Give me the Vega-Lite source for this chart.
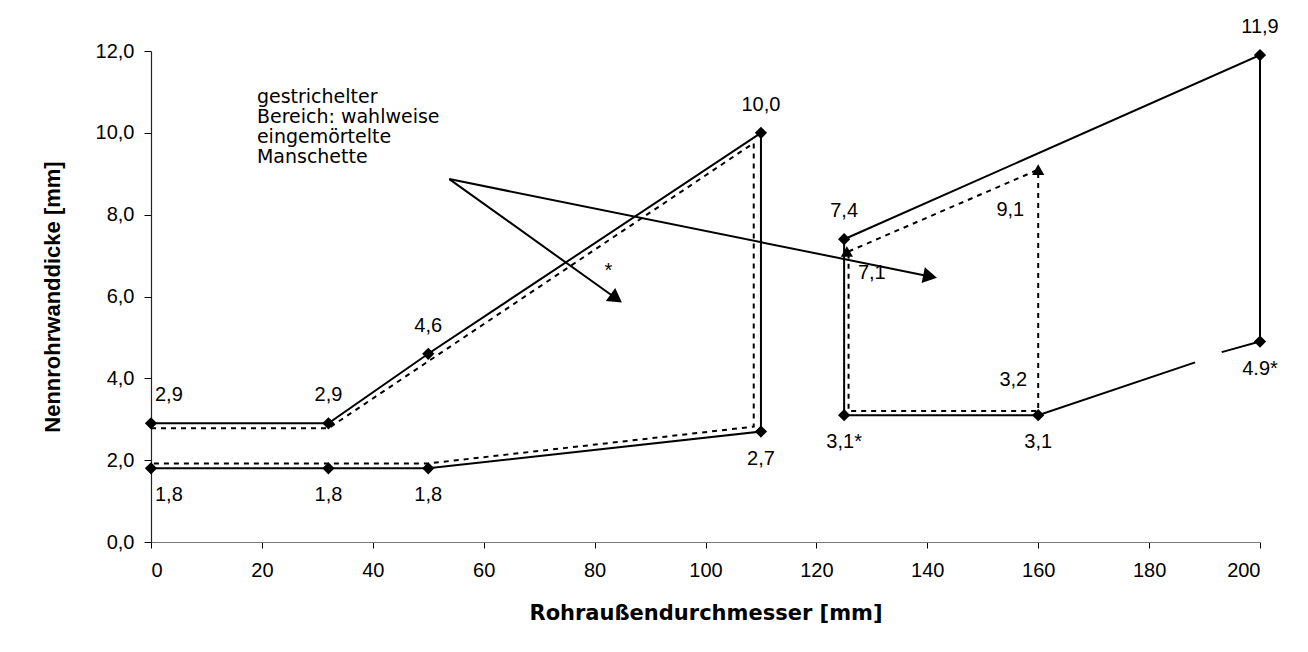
{
  "$schema": "https://vega.github.io/schema/vega-lite/v6.json",
  "width": 1109,
  "height": 491,
  "autosize": {"type": "none"},
  "padding": {"left": 151, "top": 51, "right": 48, "bottom": 110},
  "background": "white",
  "config": {"view": {"stroke": null}, "font": "Liberation Sans"},
  "datasets": {
    "solid_lines": [
      {"path": "A", "i": 1, "x": 0, "y": 2.9},
      {"path": "A", "i": 2, "x": 32, "y": 2.9},
      {"path": "A", "i": 3, "x": 50, "y": 4.6},
      {"path": "A", "i": 4, "x": 110, "y": 10.0},
      {"path": "A", "i": 5, "x": 110, "y": 2.7},
      {"path": "A", "i": 6, "x": 50, "y": 1.8},
      {"path": "A", "i": 7, "x": 32, "y": 1.8},
      {"path": "A", "i": 8, "x": 0, "y": 1.8},
      {"path": "B", "i": 1, "x": 193.1, "y": 4.64},
      {"path": "B", "i": 2, "x": 200, "y": 4.9},
      {"path": "B", "i": 3, "x": 200, "y": 11.9},
      {"path": "B", "i": 4, "x": 125, "y": 7.4},
      {"path": "B", "i": 5, "x": 125, "y": 3.1},
      {"path": "B", "i": 6, "x": 160, "y": 3.1},
      {"path": "B", "i": 7, "x": 188.3, "y": 4.39}
    ],
    "dashed_lines": [
      {"path": "C", "i": 1, "x": 0, "y": 2.78},
      {"path": "C", "i": 2, "x": 32, "y": 2.78},
      {"path": "C", "i": 3, "x": 108.7, "y": 9.75},
      {"path": "C", "i": 4, "x": 108.7, "y": 2.82},
      {"path": "C", "i": 5, "x": 50, "y": 1.92},
      {"path": "C", "i": 6, "x": 0, "y": 1.92},
      {"path": "D", "i": 1, "x": 125.8, "y": 7.1},
      {"path": "D", "i": 2, "x": 160, "y": 9.1},
      {"path": "D", "i": 3, "x": 160, "y": 3.2},
      {"path": "D", "i": 4, "x": 125.8, "y": 3.2},
      {"path": "D", "i": 5, "x": 125.8, "y": 7.1}
    ],
    "solid_points": [
      {"x": 0, "y": 1.8}, {"x": 32, "y": 1.8}, {"x": 50, "y": 1.8},
      {"x": 110, "y": 2.7}, {"x": 110, "y": 10.0}, {"x": 50, "y": 4.6},
      {"x": 32, "y": 2.9}, {"x": 0, "y": 2.9}, {"x": 125, "y": 3.1},
      {"x": 125, "y": 7.4}, {"x": 200, "y": 11.9}, {"x": 200, "y": 4.9},
      {"x": 160, "y": 3.1}
    ],
    "dashed_points": [
      {"x": 125.5, "y": 7.1}, {"x": 160, "y": 9.1}
    ],
    "lab_above": [
      {"x": 32, "y": 2.9, "label": "2,9"},
      {"x": 50, "y": 4.6, "label": "4,6"},
      {"x": 110, "y": 10.0, "label": "10,0"},
      {"x": 125, "y": 7.4, "label": "7,4"},
      {"x": 200, "y": 11.9, "label": "11,9"}
    ],
    "lab_above_left": [
      {"x": 0, "y": 2.9, "label": "2,9"}
    ],
    "lab_below": [
      {"x": 32, "y": 1.8, "label": "1,8"},
      {"x": 50, "y": 1.8, "label": "1,8"},
      {"x": 110, "y": 2.7, "label": "2,7"},
      {"x": 125, "y": 3.1, "label": "3,1*"},
      {"x": 160, "y": 3.1, "label": "3,1"},
      {"x": 200, "y": 4.9, "label": "4.9*"}
    ],
    "lab_below_left": [
      {"x": 0, "y": 1.8, "label": "1,8"}
    ],
    "lab_dashed": [
      {"x": 125.5, "y": 7.1, "label": "7,1"},
      {"x": 160, "y": 9.1, "label": "9,1"},
      {"x": 160, "y": 3.2, "label": "3,2"}
    ],
    "arrows": [
      {"id": 1, "x": 53.8, "y": 8.87, "x2": 83.9, "y2": 5.95},
      {"id": 2, "x": 53.8, "y": 8.87, "x2": 140.5, "y2": 6.49}
    ],
    "notes": [
      {"x": 19.1, "y": 11.1, "text": ["gestrichelter", "Bereich: wahlweise", "eingemörtelte", "Manschette"]}
    ],
    "stars": [
      {"x": 82.5, "y": 6.63, "text": "*"}
    ]
  },
  "layer": [
    {
      "data": {"name": "solid_lines"},
      "mark": {"type": "line", "color": "black", "strokeWidth": 2},
      "encoding": {
        "x": {
          "field": "x", "type": "quantitative",
          "scale": {"domain": [0, 200], "nice": false},
          "axis": {
            "title": "Rohraußendurchmesser [mm]",
            "values": [0, 20, 40, 60, 80, 100, 120, 140, 160, 180, 200],
            "grid": false, "tickSize": 6, "tickColor": "black",
            "domainColor": "#777", "domainWidth": 1.2,
            "labelPadding": 12, "labelFontSize": 20, "labelColor": "black",
            "titleFont": "DejaVu Sans", "titleFontSize": 21, "titleFontWeight": "bold", "titleColor": "black",
            "titlePadding": 22
          }
        },
        "y": {
          "field": "y", "type": "quantitative",
          "scale": {"domain": [0, 12], "nice": false},
          "axis": {
            "title": "Nennrohrwanddicke [mm]",
            "values": [0, 2, 4, 6, 8, 10, 12],
            "labelExpr": "replace(format(datum.value, '.1f'), '.', ',')",
            "grid": false, "tickSize": 7, "tickColor": "black",
            "domainColor": "#222", "domainWidth": 1.2,
            "labelPadding": 10, "labelFontSize": 20, "labelColor": "black",
            "titleFontSize": 22, "titleFontWeight": "bold", "titleColor": "black",
            "titlePadding": 31
          }
        },
        "detail": {"field": "path"},
        "order": {"field": "i", "type": "quantitative"}
      }
    },
    {
      "data": {"name": "dashed_lines"},
      "mark": {"type": "line", "color": "black", "strokeWidth": 2, "strokeDash": [5, 5]},
      "encoding": {
        "x": {"field": "x", "type": "quantitative"},
        "y": {"field": "y", "type": "quantitative"},
        "detail": {"field": "path"},
        "order": {"field": "i", "type": "quantitative"}
      }
    },
    {
      "data": {"name": "arrows"},
      "mark": {"type": "rule", "color": "black", "strokeWidth": 2},
      "encoding": {
        "x": {"field": "x", "type": "quantitative"},
        "y": {"field": "y", "type": "quantitative"},
        "x2": {"field": "x2"},
        "y2": {"field": "y2"}
      }
    },
    {
      "data": {"name": "arrows"},
      "transform": [{"filter": "datum.id == 1"}],
      "mark": {"type": "point", "shape": "triangle-right", "filled": true, "color": "black", "size": 260, "opacity": 1, "angle": 35.5},
      "encoding": {
        "x": {"field": "x2", "type": "quantitative"},
        "y": {"field": "y2", "type": "quantitative"}
      }
    },
    {
      "data": {"name": "arrows"},
      "transform": [{"filter": "datum.id == 2"}],
      "mark": {"type": "point", "shape": "triangle-right", "filled": true, "color": "black", "size": 260, "opacity": 1, "angle": 11.5},
      "encoding": {
        "x": {"field": "x2", "type": "quantitative"},
        "y": {"field": "y2", "type": "quantitative"}
      }
    },
    {
      "data": {"name": "solid_points"},
      "mark": {"type": "point", "shape": "diamond", "filled": true, "color": "black", "size": 150, "opacity": 1},
      "encoding": {
        "x": {"field": "x", "type": "quantitative"},
        "y": {"field": "y", "type": "quantitative"}
      }
    },
    {
      "data": {"name": "dashed_points"},
      "mark": {"type": "point", "shape": "triangle-up", "filled": true, "color": "black", "size": 150, "opacity": 1},
      "encoding": {
        "x": {"field": "x", "type": "quantitative"},
        "y": {"field": "y", "type": "quantitative"}
      }
    },
    {
      "data": {"name": "lab_above"},
      "mark": {"type": "text", "fontSize": 20, "color": "black", "baseline": "middle", "align": "center", "dy": -28},
      "encoding": {
        "x": {"field": "x", "type": "quantitative"},
        "y": {"field": "y", "type": "quantitative"},
        "text": {"field": "label"}
      }
    },
    {
      "data": {"name": "lab_above_left"},
      "mark": {"type": "text", "fontSize": 20, "color": "black", "baseline": "middle", "align": "left", "dx": 4, "dy": -28},
      "encoding": {
        "x": {"field": "x", "type": "quantitative"},
        "y": {"field": "y", "type": "quantitative"},
        "text": {"field": "label"}
      }
    },
    {
      "data": {"name": "lab_below"},
      "mark": {"type": "text", "fontSize": 20, "color": "black", "baseline": "middle", "align": "center", "dy": 27},
      "encoding": {
        "x": {"field": "x", "type": "quantitative"},
        "y": {"field": "y", "type": "quantitative"},
        "text": {"field": "label"}
      }
    },
    {
      "data": {"name": "lab_below_left"},
      "mark": {"type": "text", "fontSize": 20, "color": "black", "baseline": "middle", "align": "left", "dx": 4, "dy": 27},
      "encoding": {
        "x": {"field": "x", "type": "quantitative"},
        "y": {"field": "y", "type": "quantitative"},
        "text": {"field": "label"}
      }
    },
    {
      "data": {"name": "lab_dashed"},
      "transform": [{"filter": "datum.label == '7,1'"}],
      "mark": {"type": "text", "fontSize": 20, "color": "black", "baseline": "middle", "align": "left", "dx": 11, "dy": 22},
      "encoding": {
        "x": {"field": "x", "type": "quantitative"},
        "y": {"field": "y", "type": "quantitative"},
        "text": {"field": "label"}
      }
    },
    {
      "data": {"name": "lab_dashed"},
      "transform": [{"filter": "datum.label == '9,1'"}],
      "mark": {"type": "text", "fontSize": 20, "color": "black", "baseline": "middle", "align": "right", "dx": -14, "dy": 40},
      "encoding": {
        "x": {"field": "x", "type": "quantitative"},
        "y": {"field": "y", "type": "quantitative"},
        "text": {"field": "label"}
      }
    },
    {
      "data": {"name": "lab_dashed"},
      "transform": [{"filter": "datum.label == '3,2'"}],
      "mark": {"type": "text", "fontSize": 20, "color": "black", "baseline": "middle", "align": "right", "dx": -11, "dy": -31},
      "encoding": {
        "x": {"field": "x", "type": "quantitative"},
        "y": {"field": "y", "type": "quantitative"},
        "text": {"field": "label"}
      }
    },
    {
      "data": {"name": "notes"},
      "mark": {"type": "text", "font": "DejaVu Sans", "fontSize": 19, "lineHeight": 20, "color": "black", "baseline": "top", "align": "left"},
      "encoding": {
        "x": {"field": "x", "type": "quantitative"},
        "y": {"field": "y", "type": "quantitative"},
        "text": {"field": "text"}
      }
    },
    {
      "data": {"name": "stars"},
      "mark": {"type": "text", "fontSize": 20, "color": "black", "baseline": "middle", "align": "center"},
      "encoding": {
        "x": {"field": "x", "type": "quantitative"},
        "y": {"field": "y", "type": "quantitative"},
        "text": {"field": "text"}
      }
    }
  ]
}
